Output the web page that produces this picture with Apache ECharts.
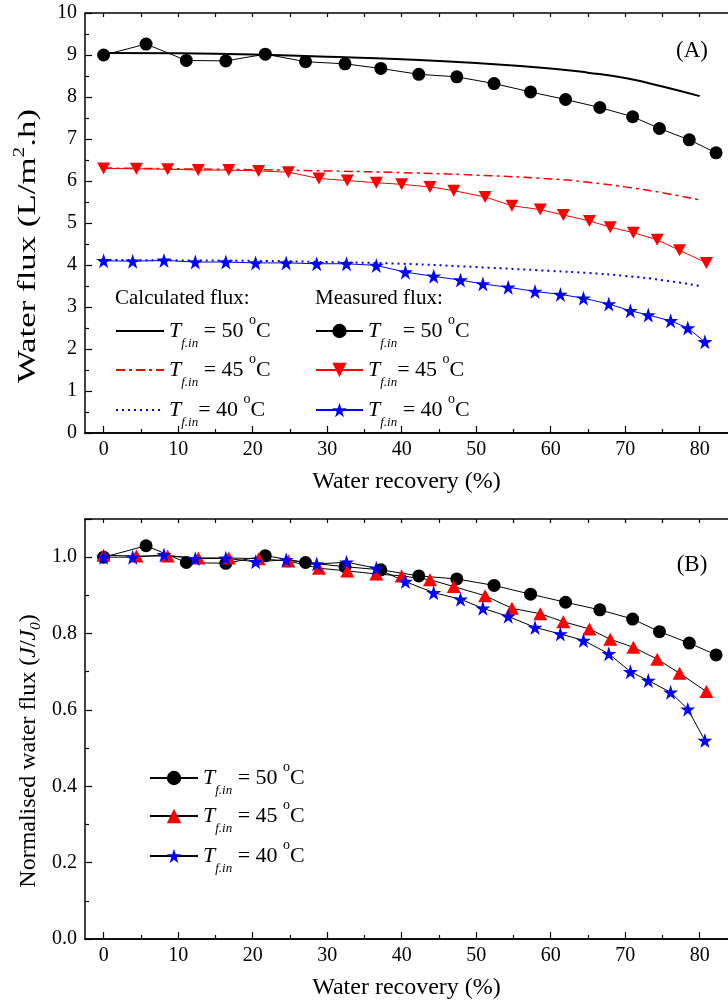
<!DOCTYPE html>
<html>
<head>
<meta charset="utf-8">
<script src="https://cdn.jsdelivr.net/npm/echarts@6/dist/echarts.min.js"></script>
<style>
html, body { margin: 0; padding: 0; background: #fff; }
#chart { width: 728px; height: 1008px; }
</style>
</head>
<body>
<div id="chart"></div>
<script>
// measured points (recovery %, flux L/m2.h)
var recovery50 = [0, 5.7, 11.1, 16.4, 21.7, 27.1, 32.4, 37.2, 42.3, 47.4, 52.4, 57.3, 62.0, 66.6, 71.0, 74.6, 78.6, 82.2];
var flux50 = [9.0, 9.26, 8.87, 8.86, 9.02, 8.84, 8.79, 8.68, 8.54, 8.48, 8.32, 8.12, 7.94, 7.75, 7.53, 7.25, 6.98, 6.67];
var recovery45 = [0, 4.4, 8.6, 12.7, 16.8, 20.8, 24.8, 28.9, 32.7, 36.6, 40.0, 43.8, 47.0, 51.2, 54.8, 58.6, 61.7, 65.2, 68.0, 71.1, 74.3, 77.3, 80.9];
var flux45 = [6.3, 6.29, 6.28, 6.26, 6.26, 6.24, 6.21, 6.06, 6.01, 5.96, 5.92, 5.86, 5.77, 5.62, 5.41, 5.32, 5.19, 5.05, 4.9, 4.77, 4.6, 4.35, 4.05];
var recovery40 = [0, 3.9, 8.1, 12.3, 16.4, 20.4, 24.5, 28.6, 32.6, 36.6, 40.5, 44.3, 47.9, 50.9, 54.3, 57.9, 61.3, 64.4, 67.8, 70.7, 73.1, 76.1, 78.4, 80.7];
var flux40 = [4.1, 4.09, 4.11, 4.07, 4.07, 4.05, 4.05, 4.03, 4.03, 3.99, 3.83, 3.73, 3.64, 3.55, 3.47, 3.37, 3.3, 3.21, 3.07, 2.91, 2.81, 2.67, 2.5, 2.17];

// calculated curves
var calcX50 = [0, 10, 20, 30, 40, 50, 60, 65, 70, 75, 80];
var calcY50 = [9.05, 9.04, 9.01, 8.96, 8.9, 8.81, 8.68, 8.58, 8.45, 8.25, 8.02];
var calcX45 = [0, 10, 20, 30, 40, 50, 60, 65, 70, 75, 80];
var calcY45 = [6.31, 6.29, 6.27, 6.24, 6.2, 6.14, 6.05, 5.97, 5.86, 5.72, 5.55];
var calcX40 = [0, 10, 20, 30, 40, 50, 60, 65, 70, 75, 80];
var calcY40 = [4.12, 4.11, 4.1, 4.07, 4.03, 3.95, 3.86, 3.81, 3.74, 3.64, 3.5];

// normalised flux J/J0
var norm50 = [1.0, 1.030, 0.986, 0.984, 1.004, 0.986, 0.975, 0.967, 0.951, 0.943, 0.926, 0.903, 0.882, 0.862, 0.838, 0.805, 0.775, 0.744];
var norm45 = [1.005, 1.003, 1.003, 0.998, 0.998, 0.996, 0.99, 0.971, 0.964, 0.956, 0.951, 0.941, 0.923, 0.899, 0.866, 0.852, 0.831, 0.812, 0.785, 0.764, 0.733, 0.696, 0.648];
var norm40 = [1.0, 1.0, 1.006, 0.996, 0.997, 0.988, 0.993, 0.982, 0.987, 0.971, 0.936, 0.907, 0.89, 0.866, 0.845, 0.816, 0.799, 0.782, 0.747, 0.70, 0.677, 0.646, 0.602, 0.52];

var xMajor = [0, 10, 20, 30, 40, 50, 60, 70, 80];
var xMinor = [5, 15, 25, 35, 45, 55, 65, 75];
var xAll = [0, 5, 10, 15, 20, 25, 30, 35, 40, 45, 50, 55, 60, 65, 70, 75, 80];

var FONT = 'Liberation Serif';
var RED = '#ff0000', BLUE = '#0000ff';
var STAR = 'path://M10,0 L12.245,6.91 L19.511,6.91 L13.633,11.18 L15.878,18.09 L10,13.82 L4.122,18.09 L6.367,11.18 L0.489,6.91 L7.755,6.91 Z';
var TRI_DOWN = 'path://M0,0 L12,0 L6,11 Z';
var TRI_UP = 'path://M6,0 L12,11 L0,11 Z';

function zip(xs, ys) {
    return xs.map(function (x, i) { return [x, ys[i]]; });
}

var rich = {
    n: { fontFamily: FONT, fontSize: 22, color: '#000' },
    i: { fontFamily: FONT, fontSize: 22, fontStyle: 'italic', color: '#000' },
    sub: { fontFamily: FONT, fontSize: 13, fontStyle: 'italic', color: '#000', padding: [26, 0, 0, 0] },
    sup: { fontFamily: FONT, fontSize: 14, color: '#000', padding: [0, 0, 22, 0] }
};

var labels = {
    c50: '{i|T}{sub|f.in}{n| = 50 }{sup|o}{n|C}',
    c45: '{i|T}{sub|f.in}{n| = 45 }{sup|o}{n|C}',
    c40: '{i|T}{sub|f.in}{n|= 40 }{sup|o}{n|C}',
    m50: '{i|T}{sub|f.in}{n| = 50 }{sup|o}{n|C}',
    m45: '{i|T}{sub|f.in}{n|= 45 }{sup|o}{n|C}',
    m40: '{i|T}{sub|f.in}{n| = 40 }{sup|o}{n|C}',
    n50: '{i|T}{sub|f.in}{n| = 50 }{sup|o}{n|C}',
    n45: '{i|T}{sub|f.in}{n| = 45 }{sup|o}{n|C}',
    n40: '{i|T}{sub|f.in}{n| = 40 }{sup|o}{n|C}'
};

function legendItem(name, left, centerY, w, hideSymbol) {
    var l = {
        data: [name], left: left, top: centerY - 20, orient: 'vertical',
        itemWidth: w, itemHeight: 18, padding: 0, selectedMode: false,
        formatter: function (n) { return labels[n]; },
        textStyle: { fontFamily: FONT, fontSize: 22, color: '#000', rich: rich }
    };
    if (hideSymbol) l.itemStyle = { opacity: 0 };
    return l;
}

var axisLine = { show: true, onZero: false, lineStyle: { color: '#000', width: 1.5 } };
var tickStyle = { color: '#000', width: 1.2 };

function xAxis(gi, pos, ticks, len, withLabels) {
    var a = {
        type: 'value', gridIndex: gi, position: pos, min: -2.5, max: 83.8,
        axisLine: axisLine,
        axisTick: { show: true, inside: true, length: len, customValues: ticks, lineStyle: tickStyle },
        axisLabel: { show: false },
        splitLine: { show: false }
    };
    if (withLabels) {
        a.axisLabel = { show: true, customValues: ticks, margin: 7, fontFamily: FONT, fontSize: 20, color: '#000' };
        a.name = 'Water recovery (%)';
        a.nameLocation = 'middle';
        a.nameGap = 37;
        a.nameTextStyle = { fontFamily: FONT, fontSize: 24, color: '#000' };
    }
    return a;
}

function yAxis(gi, max, interval, fmt) {
    return {
        type: 'value', gridIndex: gi, min: 0, max: max, interval: interval,
        axisLine: axisLine,
        axisTick: { show: true, inside: true, length: 7, lineStyle: tickStyle },
        minorTick: { show: true, splitNumber: 2, length: 4, lineStyle: tickStyle },
        axisLabel: { margin: 8, fontFamily: FONT, fontSize: 20, color: '#000', formatter: fmt },
        splitLine: { show: false }
    };
}

function calcSeries(name, xs, ys, color, type, width) {
    return {
        name: name, type: 'line', xAxisIndex: 0, yAxisIndex: 0,
        data: zip(xs, ys), smooth: 0.5, symbol: 'none', showSymbol: false,
        lineStyle: { color: color, type: type, width: width }, itemStyle: { color: color }, z: 2
    };
}

function measSeries(name, xi, yi, xs, ys, color, lineColor, symbol, size) {
    return {
        name: name, type: 'line', xAxisIndex: xi, yAxisIndex: yi,
        data: zip(xs, ys), symbol: symbol, symbolSize: size,
        lineStyle: { color: lineColor, width: 1 }, itemStyle: { color: color, opacity: 1 }, z: 3
    };
}

var option = {
    animation: false,
    backgroundColor: '#fff',
    grid: [
        { left: 85, top: 13, right: 0, height: 420 },
        { left: 85, top: 519, right: 0, height: 420 }
    ],
    xAxis: [
        xAxis(0, 'bottom', xMajor, 7, true),
        xAxis(0, 'bottom', xMinor, 4, false),
        xAxis(0, 'top', xAll, 4, false),
        xAxis(1, 'bottom', xMajor, 7, true),
        xAxis(1, 'bottom', xMinor, 4, false),
        xAxis(1, 'top', xAll, 4, false)
    ],
    yAxis: [
        yAxis(0, 10, 1, null),
        yAxis(1, 1.1, 0.2, function (v) { return v > 1.05 ? '' : v.toFixed(1); })
    ],
    legend: [
        legendItem('c50', 115, 333, 48, true),
        legendItem('c45', 115, 372, 48, true),
        legendItem('c40', 115, 412, 48, true),
        legendItem('m50', 315, 333, 47),
        legendItem('m45', 315, 372, 47),
        legendItem('m40', 315, 412, 47),
        legendItem('n50', 149, 780, 48),
        legendItem('n45', 149, 818, 48),
        legendItem('n40', 149, 858, 48)
    ],
    graphic: [
        { type: 'text', x: 115, y: 298, style: { text: 'Calculated flux:', font: '21px "Liberation Serif"', fill: '#000', verticalAlign: 'middle' } },
        { type: 'text', x: 315, y: 298, style: { text: 'Measured flux:', font: '21px "Liberation Serif"', fill: '#000', verticalAlign: 'middle' } },
        { type: 'text', x: 692, y: 51, style: { text: '(A)', font: '23px "Liberation Serif"', fill: '#000', align: 'center', verticalAlign: 'middle' } },
        { type: 'text', x: 692, y: 565, style: { text: '(B)', font: '23px "Liberation Serif"', fill: '#000', align: 'center', verticalAlign: 'middle' } },
        {
            type: 'text', x: 28, y: 246, rotation: Math.PI / 2, scaleX: 1.34,
            style: {
                text: '{n|Water flux (L/m}{sup|2}{n|.h)}', align: 'center', verticalAlign: 'middle',
                rich: {
                    n: { fontFamily: FONT, fontSize: 26, color: '#000' },
                    sup: { fontFamily: FONT, fontSize: 16, color: '#000', padding: [0, 0, 16, 0] }
                }
            }
        },
        {
            type: 'text', x: 29, y: 751, rotation: Math.PI / 2,
            style: {
                text: '{n|Normalised water flux (}{i|J}{n|/}{i|J}{sub|0}{n|)}', align: 'center', verticalAlign: 'middle',
                rich: {
                    n: { fontFamily: FONT, fontSize: 24, color: '#000' },
                    i: { fontFamily: FONT, fontSize: 24, fontStyle: 'italic', color: '#000' },
                    sub: { fontFamily: FONT, fontSize: 15, fontStyle: 'italic', color: '#000', padding: [14, 0, 0, 0] }
                }
            }
        }
    ],
    series: [
        calcSeries('c50', calcX50, calcY50, '#000', 'solid', 2),
        calcSeries('c45', calcX45, calcY45, RED, [9, 4, 3, 4], 1.5),
        calcSeries('c40', calcX40, calcY40, BLUE, [2, 4], 2),
        measSeries('m50', 0, 0, recovery50, flux50, '#000', '#000', 'circle', 13),
        measSeries('m45', 0, 0, recovery45, flux45, RED, RED, TRI_DOWN, [13, 12]),
        measSeries('m40', 0, 0, recovery40, flux40, BLUE, BLUE, STAR, 15),
        measSeries('n50', 3, 1, recovery50, norm50, '#000', '#000', 'circle', 13),
        measSeries('n45', 3, 1, recovery45, norm45, RED, '#000', TRI_UP, [14, 13]),
        measSeries('n40', 3, 1, recovery40, norm40, BLUE, '#000', STAR, 15)
    ]
};

var chart = echarts.init(document.getElementById('chart'));
chart.setOption(option);
</script>
</body>
</html>
